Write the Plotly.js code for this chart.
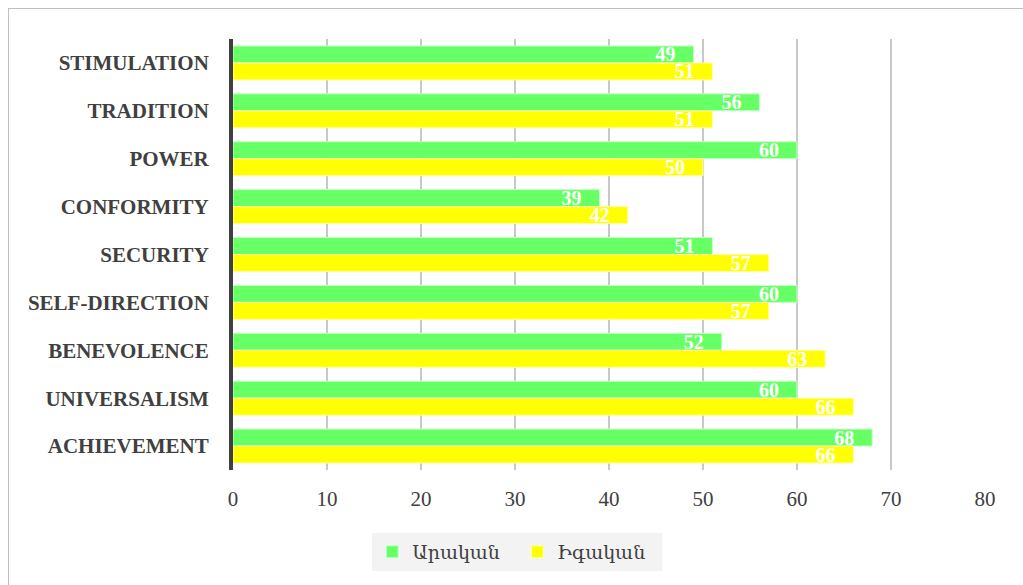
<!DOCTYPE html>
<html>
<head>
<meta charset="utf-8">
<script src="https://cdn.plot.ly/plotly-3.0.1.min.js"></script>
<style>
html,body{margin:0;padding:0;background:#fff;}
#frame{position:absolute;left:8px;top:8px;width:1030px;height:600px;border:1px solid #bfbfbf;box-sizing:border-box;}
#chart{position:absolute;left:0;top:0;width:1023px;height:585px;}
</style>
</head>
<body>
<div id="frame"></div>
<div id="chart"></div>
<script>
const categories = ["STIMULATION","TRADITION","POWER","CONFORMITY","SECURITY","SELF-DIRECTION","BENEVOLENCE","UNIVERSALISM","ACHIEVEMENT"];
const maleName = "Արական";
const femaleName = "Իգական";
const maleValues = [49,56,60,39,51,60,52,60,68];
const femaleValues = [51,51,50,42,57,57,63,66,66];
const xTicks = [0,10,20,30,40,50,60,70,80];

const labelFont = {family:"Liberation Serif, DejaVu Serif, serif", size:20, color:"#ffffff", weight:"bold"};
const pad = "\u00a0\u00a0\u00a0";

const traces = [
  {type:"bar", orientation:"h", name:maleName, y:categories, x:maleValues,
   marker:{color:"#66ff66", line:{color:"#c8ffc8", width:1}},
   text:maleValues.map(v => String(v) + pad), textposition:"inside", insidetextanchor:"end",
   textangle:0, constraintext:"none",
   textfont:labelFont, cliponaxis:false, hoverinfo:"x+y"},
  {type:"bar", orientation:"h", name:femaleName, y:categories, x:femaleValues,
   marker:{color:"#ffff00", line:{color:"#ffffb0", width:1}},
   text:femaleValues.map(v => String(v) + pad), textposition:"inside", insidetextanchor:"end",
   textangle:0, constraintext:"none",
   textfont:labelFont, cliponaxis:false, hoverinfo:"x+y"}
];

const layout = {
  width:1023, height:585,
  margin:{l:233, r:38, t:39, b:115},
  paper_bgcolor:"rgba(0,0,0,0)", plot_bgcolor:"rgba(0,0,0,0)",
  barmode:"group", bargap:0.29, bargroupgap:0,
  showlegend:true,
  legend:{orientation:"h", x:0.378, xanchor:"center", y:-0.19, yanchor:"middle",
    bgcolor:"#f3f3f3", font:{family:"DejaVu Serif, serif", size:19, color:"#404040"},
    itemwidth:30, entrywidth:100, traceorder:"normal"},
  xaxis:{range:[0,80], tickvals:xTicks, ticktext:xTicks.map(String),
    showgrid:true, gridcolor:"#c8c8c8", gridwidth:2, zeroline:false, showline:false,
    ticks:"", tickfont:{family:"Liberation Serif, DejaVu Serif, serif", size:21, color:"#404040"},
    ticklabelstandoff:14, fixedrange:true},
  yaxis:{type:"category", autorange:"reversed", showgrid:false, zeroline:false,
    showline:true, linecolor:"#404040", linewidth:4, ticks:"",
    tickfont:{family:"Liberation Serif, DejaVu Serif, serif", size:21, color:"#404040", weight:"bold"},
    ticklabelstandoff:16, fixedrange:true},
  uniformtext:{mode:false}
};

Plotly.newPlot("chart", traces, layout, {displayModeBar:false, staticPlot:true});
</script>
</body>
</html>
